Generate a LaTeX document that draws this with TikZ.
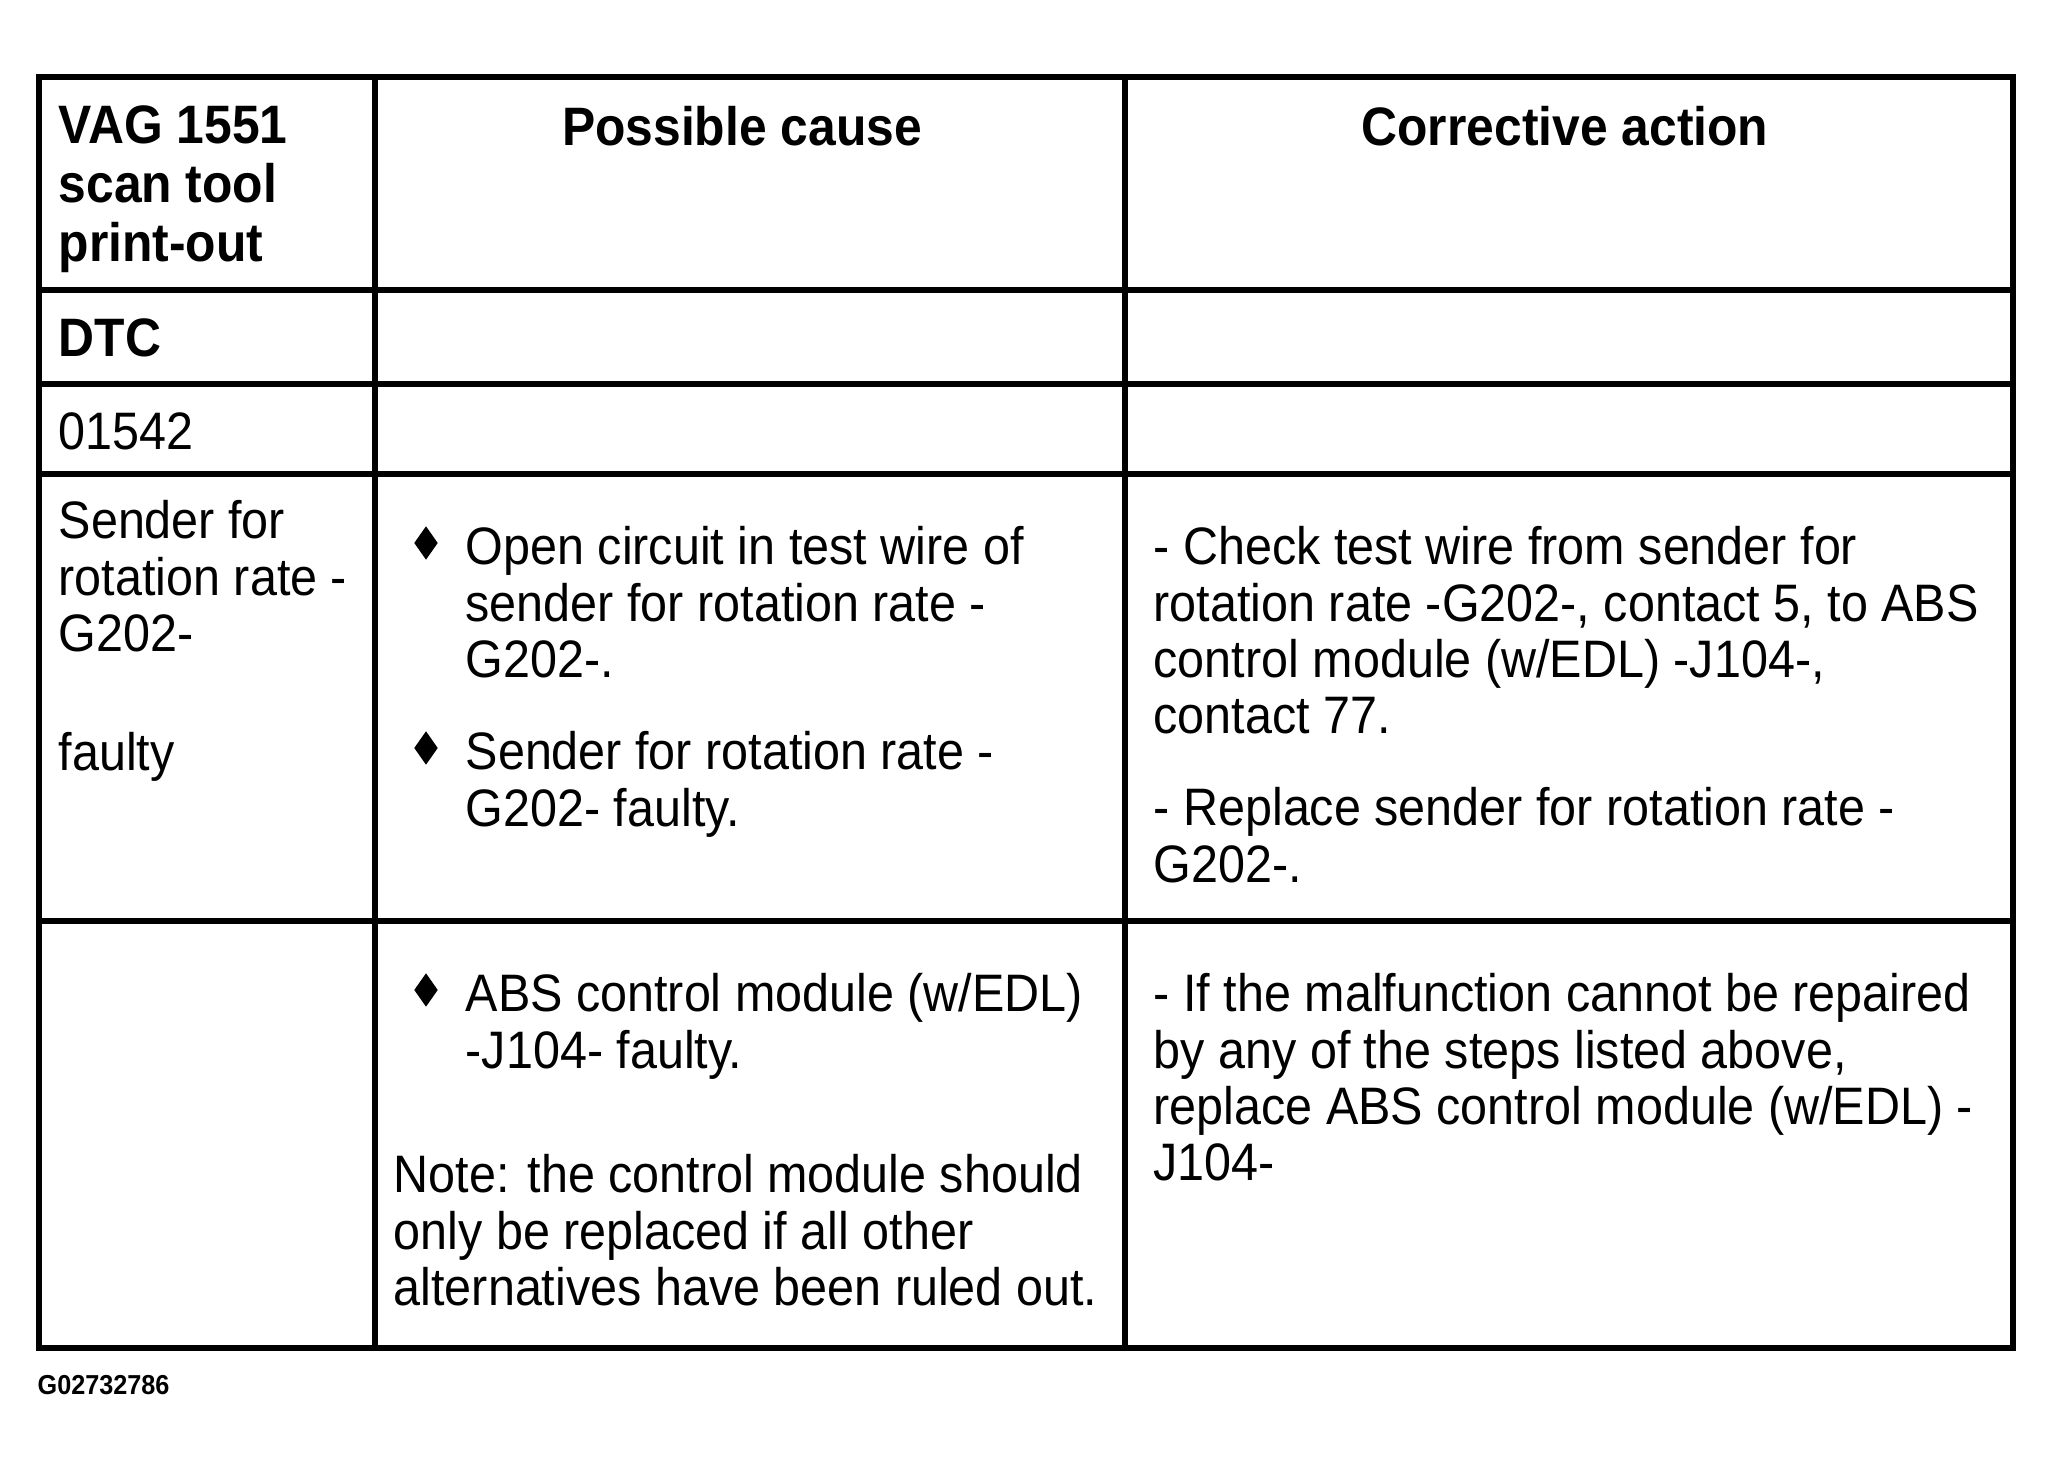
\documentclass[tikz,border=0pt]{standalone}
\usepackage{fontspec}
\setmainfont[FakeStretch=0.92]{Liberation Sans}
\usetikzlibrary{positioning, shapes.geometric}

\begin{document}
\begin{tikzpicture}[
      x=0.1mm, y=-0.1mm,
      grid/.style   = {line width=1.5pt},
      cell/.style   = {anchor=north west, inner sep=0pt, align=left, font=\fontsize{15}{16}\selectfont,
                       execute at begin node=\strut},
      head/.style   = {anchor=north west, inner sep=0pt, align=left, font=\fontsize{15.4}{16.8}\selectfont\bfseries,
                       execute at begin node=\strut},
      bullet/.style = {diamond, fill=black, inner sep=0pt, minimum width=2.4mm, minimum height=3.4mm}
  ]

  \useasboundingbox (0,0) rectangle (2050,1469);

  % --- Table frame ---
  \draw[grid] (39,77) rectangle (2013,1348);
  \draw[grid] (375,77) -- (375,1348);
  \draw[grid] (1125,77) -- (1125,1348);
  \foreach \y in {290,384,474,921}
    \draw[grid] (39,\y) -- (2013,\y);

  % --- Header row (strut tops: baseline - 41) ---
  \node[head] (tool)  at (58,105) {VAG 1551\\scan tool\\print-out};
  \node[head, anchor=north] (cause) at (742,103) {Possible cause};
  \node[head, anchor=north] (action) at (1565,103) {Corrective action};

  % --- DTC ---
  \node[head] (dtc)  at (58,314) {DTC};
  \node[cell] (code) at (58,409) {01542};

  % --- Sender row (strut tops: baseline - 39.5) ---
  \node[cell] (sender) at (58,500) {Sender for\\rotation rate -\\G202-};
  \node[cell] (faulty) at (58,730) {faulty};

  \node[bullet] (dotA) at (426,543) {};
  \node[cell] (causeA) at (465,526) {Open circuit in test wire of\\sender for rotation rate -\\G202-.};
  \node[bullet] (dotB) at (426,748) {};
  \node[cell] (causeB) at (465,731) {Sender for rotation rate -\\G202- faulty.};

  \node[cell] (fixA) at (1153,526) {- Check test wire from sender for\\rotation rate -G202-, contact 5, to ABS\\control module (w/EDL) -J104-,\\contact 77.};
  \node[cell] (fixB) at (1153,787) {- Replace sender for rotation rate -\\G202-.};

  % --- Control module row ---
  \node[bullet] (dotC) at (426,990) {};
  \node[cell] (causeC) at (465,973) {ABS control module (w/EDL)\\-J104- faulty.};
  \node[cell] (note) at (393,1154) {Note: the control module should\\only be replaced if all other\\alternatives have been ruled out.};

  \node[cell] (fixC) at (1153,973) {- If the malfunction cannot be repaired\\by any of the steps listed above,\\replace ABS control module (w/EDL) -\\J104-};

  % --- Figure code ---
  \node[anchor=base west, inner sep=0pt, font=\fontsize{7.8}{9}\selectfont\bfseries] (figcode) at (37,1394) {G02732786};

\end{tikzpicture}
\end{document}
